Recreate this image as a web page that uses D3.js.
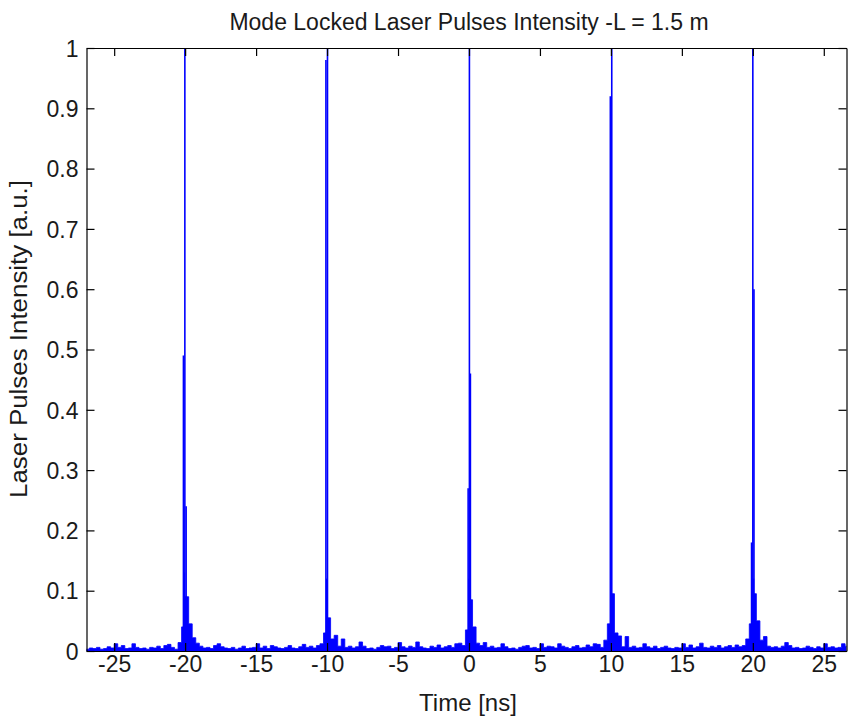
<!DOCTYPE html>
<html><head><meta charset="utf-8">
<script src="https://cdn.jsdelivr.net/npm/d3@7"></script>
<style>
body{margin:0;background:#fff}
text{font-family:"Liberation Sans",Arial,sans-serif;fill:#1a1a1a}
</style>
</head><body>
<svg id="c" width="848" height="718"></svg>
<script>
const titleText = "Mode Locked Laser Pulses Intensity -L = 1.5 m";
const xLabelText = "Time [ns]";
const yLabelText = "Laser Pulses Intensity [a.u.]";
const xDomain = [-26.95, 26.6];
const yDomain = [0, 1];
const xTicks = [-25, -20, -15, -10, -5, 0, 5, 10, 15, 20, 25];
const xTickLabels = ["-25", "-20", "-15", "-10", "-5", "0", "5", "10", "15", "20", "25"];
const yTicks = [0, 0.1, 0.2, 0.3, 0.4, 0.5, 0.6, 0.7, 0.8, 0.9, 1];
const yTickLabels = ["0", "0.1", "0.2", "0.3", "0.4", "0.5", "0.6", "0.7", "0.8", "0.9", "1"];

// noise floor envelope, thousandths of a.u., sampled every 0.25 ns from -27 ns
const noiseStart = -27;
const noiseStep = 0.25;
const noise = [
  3,5,4,6,3,4,7,5,12,6,9,4,5,12,6,4,5,3,6,5,8,4,9,11,6,3,14,40,90,45,
  22,13,8,5,6,4,9,12,7,5,4,6,3,5,8,4,5,6,12,5,8,4,9,7,5,4,6,9,5,4,
  7,11,6,8,5,9,12,30,55,20,26,8,20,6,8,5,7,15,8,4,5,3,6,9,7,8,4,6,14,7,
  5,8,6,15,7,5,4,8,6,10,5,7,9,6,12,13,9,35,85,40,13,9,14,6,8,5,6,12,7,4,
  5,3,6,8,9,5,6,4,12,6,8,7,5,12,8,6,4,7,9,5,6,10,7,12,11,6,18,45,95,30,
  25,7,24,6,8,5,6,12,7,5,8,4,6,8,5,4,6,5,12,6,10,5,7,13,6,5,8,6,9,5,
  7,9,6,10,7,9,20,45,95,50,18,24,8,6,7,5,8,14,9,5,6,4,5,8,6,4,7,5,12,6,
  7,5,6,12,8,5
];

// tall spikes of each pulse: time (ns) and intensity (a.u.)
const spikeTimes  = [-20.02, -20.12, -19.93, -20.06, -9.97, -10.08, -10.02, 0.03, 0.1, -0.06, 0.0, 10.06, 9.96, 10.02, 20.0, 20.08, 19.91, 20.04];
const spikeValues = [1.0, 0.49, 0.24, 0.13, 1.0, 0.98, 0.12, 1.0, 0.46, 0.27, 0.12, 1.0, 0.92, 0.1, 1.0, 0.6, 0.18, 0.12];

const svg = d3.select("#c");
const L = 86.5, R = 846.5, T = 48, B = 651;
const x = d3.scaleLinear().domain(xDomain).range([L, R]);
const y = d3.scaleLinear().domain(yDomain).range([B, T]);
const blue = "#0000ff";
const fs = 23;
const ff = '"Liberation Sans",Arial,sans-serif';

svg.append("rect").attr("width", 848).attr("height", 718).attr("fill", "#fff");
svg.append("defs").append("clipPath").attr("id", "clip")
  .append("rect").attr("x", L).attr("y", T - 1).attr("width", R - L).attr("height", B - T + 1);

const noisePts = noise.map((v, i) => ({t: noiseStart + i * noiseStep, v: v / 1000}));
const g = svg.append("g").attr("clip-path", "url(#clip)");
g.append("path")
  .datum(noisePts)
  .attr("fill", blue)
  .attr("stroke", blue)
  .attr("stroke-width", 0.8)
  .attr("d", d3.area().curve(d3.curveStepAfter).x(d => x(d.t)).y0(y(0)).y1(d => y(d.v)));

g.selectAll("line.spike")
  .data(spikeTimes.map((t, i) => ({t, v: spikeValues[i]})))
  .join("line")
  .attr("class", "spike")
  .attr("x1", d => x(d.t)).attr("x2", d => x(d.t))
  .attr("y1", y(0)).attr("y2", d => y(d.v))
  .attr("stroke", blue).attr("stroke-width", 1.6);

// axes (MATLAB style box, inward ticks)
const tk = 8;
const axB = svg.append("g").attr("transform", `translate(0,${B})`)
  .call(d3.axisBottom(x).tickValues(xTicks).tickSizeInner(-tk).tickSizeOuter(0).tickPadding(0).tickFormat((d, i) => xTickLabels[i]));
axB.selectAll("text").attr("dy", null).attr("y", 21).attr("font-size", fs).style("font-family", ff);
const axT = svg.append("g").attr("transform", `translate(0,${T})`)
  .call(d3.axisTop(x).tickValues(xTicks).tickSizeInner(-tk).tickSizeOuter(0).tickFormat(""));
const axLft = svg.append("g").attr("transform", `translate(${L},0)`)
  .call(d3.axisLeft(y).tickValues(yTicks).tickSizeInner(-tk).tickSizeOuter(0).tickPadding(8).tickFormat((d, i) => yTickLabels[i]));
axLft.selectAll("text").attr("dy", "0.36em").attr("font-size", fs).style("font-family", ff);
const axRt = svg.append("g").attr("transform", `translate(${R},0)`)
  .call(d3.axisRight(y).tickValues(yTicks).tickSizeInner(-tk).tickSizeOuter(0).tickFormat(""));
[axB, axT, axLft, axRt].forEach(a => {
  a.select(".domain").attr("stroke", "#000").attr("stroke-width", 1.2);
  a.selectAll(".tick line").attr("stroke", "#000").attr("stroke-width", 1.2);
  a.selectAll("text").attr("fill", "#1a1a1a");
});

svg.append("text").attr("x", 469).attr("y", 30).attr("text-anchor", "middle")
  .attr("font-size", fs).text(titleText);
svg.append("text").attr("x", 468).attr("y", 711).attr("text-anchor", "middle")
  .attr("font-size", 24).text(xLabelText);
svg.append("text").attr("transform", "translate(27,339) rotate(-90)").attr("text-anchor", "middle")
  .attr("font-size", 23).attr("textLength", 318).attr("lengthAdjust", "spacingAndGlyphs").text(yLabelText);
</script>
</body></html>
